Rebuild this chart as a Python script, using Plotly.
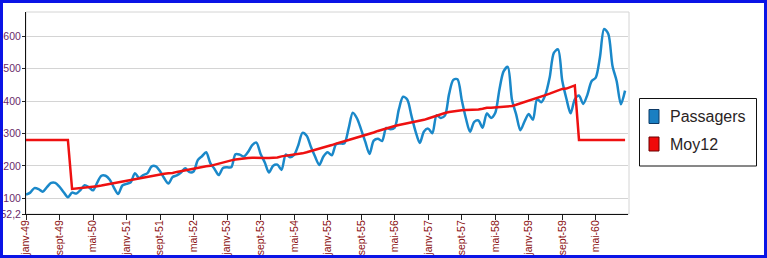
import plotly.graph_objects as go

W, H = 767, 258
ML, MR, MT, MB = 26, 139, 12, 44
PW, PH = W - ML - MR, H - MT - MB

mois = ["janv", "févr", "mars", "avr", "mai", "juin", "juil", "août", "sept", "oct", "nov", "déc"]
annees = ["49", "50", "51", "52", "53", "54", "55", "56", "57", "58", "59", "60"]
months = [f"{m}-{a}" for a in annees for m in mois]

passagers = [
    112, 118, 132, 129, 121, 135, 148, 148, 136, 119, 104, 118,
    115, 126, 141, 135, 125, 149, 170, 170, 158, 133, 114, 140,
    145, 150, 178, 163, 172, 178, 199, 199, 184, 162, 146, 166,
    171, 180, 193, 181, 183, 218, 230, 242, 209, 191, 172, 194,
    196, 196, 236, 235, 229, 243, 264, 272, 237, 211, 180, 201,
    204, 188, 235, 227, 234, 264, 302, 293, 259, 229, 203, 229,
    242, 233, 267, 269, 270, 315, 364, 347, 312, 274, 237, 278,
    284, 277, 317, 313, 318, 374, 413, 405, 355, 306, 271, 306,
    315, 301, 356, 348, 355, 422, 465, 467, 404, 347, 305, 336,
    340, 318, 362, 348, 363, 435, 491, 505, 404, 359, 310, 337,
    360, 342, 406, 396, 420, 472, 548, 559, 463, 407, 362, 405,
    417, 391, 419, 461, 472, 535, 622, 606, 508, 461, 390, 432,
]

moy12 = [
    280.3, 280.3, 280.3, 280.3, 280.3, 280.3, 280.3, 280.3, 280.3, 280.3, 280.3,
    129.2, 130.3, 132.2, 134.0, 135.8, 137.0, 137.8, 139.7, 142.2, 144.2, 147.3, 149.6,
    153.5, 155.9, 158.3, 160.8, 162.9, 165.3, 168.0, 170.2, 172.3, 174.8, 176.1, 177.6,
    178.5, 181.8, 184.4, 188.0, 190.1, 192.5, 194.7, 197.0, 199.1, 200.4, 204.0, 208.5,
    212.3, 214.4, 217.3, 219.8, 222.1, 223.8, 224.4, 225.0, 225.7, 225.0, 224.9, 224.3,
    224.7, 226.4, 229.6, 231.3, 233.2, 234.7, 236.6, 238.9, 242.1, 245.8, 248.5, 252.0,
    255.0, 259.3, 264.4, 268.9, 273.3, 277.1, 279.9, 284.0, 287.5, 291.2, 295.3, 299.0,
    303.0, 307.9, 312.0, 316.8, 320.4, 323.1, 325.9, 328.3, 330.8, 332.8, 336.1, 339.0,
    342.1, 346.1, 350.4, 355.6, 359.7, 363.1, 365.9, 368.4, 370.5, 371.9, 372.4, 372.4,
    373.1, 374.2, 376.3, 379.5, 379.5, 380.5, 380.9, 381.0, 382.7, 384.7, 388.3, 392.3,
    397.1, 400.2, 404.9, 409.4, 414.3, 418.3, 422.7, 428.3, 433.1, 437.2, 438.3, 443.7,
    448.0,
    280.3, 280.3, 280.3, 280.3, 280.3, 280.3, 280.3, 280.3, 280.3, 280.3, 280.3, 280.3,
]

x_ticks = ["janv-49", "sept-49", "mai-50", "janv-51", "sept-51", "mai-52", "janv-53",
           "sept-53", "mai-54", "janv-55", "sept-55", "mai-56", "janv-57", "sept-57",
           "mai-58", "janv-59", "sept-59", "mai-60"]
y_tickvals = [52.2, 100, 200, 300, 400, 500, 600]
y_ticktext = ["52,2", "100", "200", "300", "400", "500", "600"]

series_names = ["Passagers", "Moy12"]
series_colors = ["#1a88c9", "#ee1111"]

fig = go.Figure()
fig.add_trace(go.Scatter(x=months, y=passagers, mode="lines", name=series_names[0],
                         line=dict(color=series_colors[0], width=2.5, shape="spline", smoothing=0.8)))
fig.add_trace(go.Scatter(x=months, y=moy12, mode="lines", name=series_names[1],
                         line=dict(color=series_colors[1], width=2.5)))


def px(xp):
    return (xp - ML) / PW


def py(yp):
    return (H - MB - yp) / PH


shapes = [
    # outer blue frame
    dict(type="rect", xref="paper", yref="paper", x0=px(1.5), x1=px(765.5), y0=py(256.5), y1=py(1.5),
         line=dict(color="#0a14e6", width=3), layer="above"),
    # light plot border (top / right)
    dict(type="rect", xref="paper", yref="paper", x0=0, x1=px(629), y0=0, y1=1,
         line=dict(color="#d4d4d4", width=1), layer="below"),
    # legend box
    dict(type="rect", xref="paper", yref="paper", x0=px(639.5), x1=px(756.5), y0=py(166), y1=py(98.5),
         line=dict(color="#111111", width=1), fillcolor="white"),
]
annotations = []
legend_y = [116.5, 144]
swatch_fill = ["#1a7fc2", "#f00a0a"]
swatch_line = ["#0d3a66", "#6a0000"]
for i, name in enumerate(series_names):
    cy = legend_y[i]
    shapes.append(dict(type="rect", xref="paper", yref="paper", x0=px(649), x1=px(659),
                       y0=py(cy + 7), y1=py(cy - 7),
                       line=dict(color=swatch_line[i], width=1), fillcolor=swatch_fill[i]))
    annotations.append(dict(xref="paper", yref="paper", x=px(668), y=py(cy), text=name,
                            showarrow=False, xanchor="left", yanchor="middle",
                            font=dict(family="Liberation Sans, Arial, sans-serif", size=16, color="#2a2424")))

fig.update_layout(
    width=W, height=H,
    margin=dict(l=ML, r=MR, t=MT, b=MB, pad=0, autoexpand=False),
    paper_bgcolor="white", plot_bgcolor="white",
    showlegend=False,
    shapes=shapes, annotations=annotations,
    font=dict(family="Liberation Sans, Arial, sans-serif"),
)
fig.update_xaxes(
    type="category", range=[0, 143.7], automargin=False,
    tickmode="array", tickvals=x_ticks, ticktext=x_ticks, tickangle=-90,
    tickfont=dict(size=10.5, color="#8b1010"),
    ticks="outside", ticklen=5, tickcolor="#222222",
    ticklabelstandoff=-4,
    showgrid=False, showline=True, linecolor="#111111", linewidth=1,
    zeroline=False,
)
fig.update_yaxes(
    range=[52.2, 674], automargin=False,
    tickmode="array", tickvals=y_tickvals, ticktext=y_ticktext,
    tickfont=dict(size=10.5, color="#6a2a6a"),
    ticks="outside", ticklen=3, tickcolor="#222222",
    ticklabelstandoff=-1,
    showgrid=True, gridcolor="#d4d4d4", gridwidth=1,
    showline=True, linecolor="#111111", linewidth=1,
    zeroline=False,
)

fig.write_html("out.html")
